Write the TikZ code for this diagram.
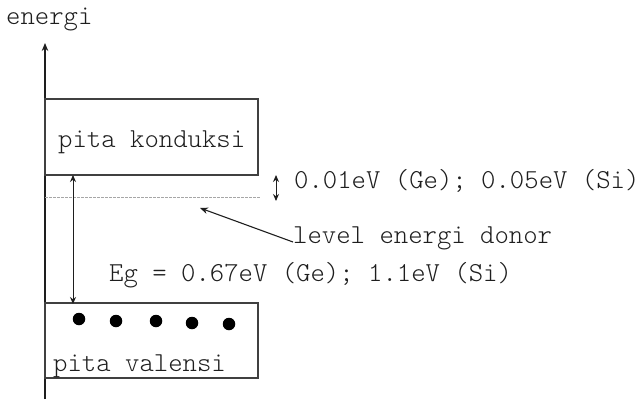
\documentclass[tikz,border=0pt]{standalone}
\usepackage{fontspec}
\setmonofont{Latin Modern Mono Light}
\usetikzlibrary{arrows.meta}
\definecolor{ink}{HTML}{1E1E1E}
\tikzset{
  lbl/.style={anchor=base west, inner sep=0pt, font=\ttfamily\fontsize{27.4}{30}\selectfont, text=ink},
  band/.style={draw=ink!85, line width=1.4pt},
  head/.style={Stealth[length=8pt,width=6.5pt]},
  tip/.style={-{Stealth[length=8pt,width=6.5pt]}},
  twotip/.style={{Stealth[length=7pt,width=6pt]}-{Stealth[length=7pt,width=6pt]}},
  electron/.style={circle, fill=black, inner sep=0pt, minimum size=12.5pt},
}
\begin{document}
\begin{tikzpicture}[x=1pt,y=-1pt]
  \useasboundingbox (0,0) rectangle (642,399);
  % energy axis
  \coordinate (axb) at (45,399);
  \coordinate (axt) at (45,43);
  \draw[ink, line width=1.2pt, tip] (axb) -- (axt);
  \node[lbl] (energi) at (6,24) {energi};
  % conduction band
  \draw[band] (45,99) rectangle (258,175);
  \node[lbl] (cb) at (58,147) {pita konduksi};
  % donor level
  \coordinate (dl) at (45,197);
  \coordinate (dr) at (260,197);
  \draw[gray!70, line width=0.7pt, dash pattern=on 2.5pt off 1.5pt] (dl) -- (dr);
  % valence band
  \draw[band] (45,303) rectangle (258,378);
  \node[lbl] (vb) at (53,371) {pita valensi};
  \foreach \x/\y [count=\i] in {79/319, 116/321, 156/321, 192/323, 229/324}
    \node[electron] (e\i) at (\x,\y) {};
  % band gap
  \coordinate (gt) at (73,175);
  \coordinate (gb) at (73,304);
  \draw[ink, line width=1pt, twotip] (gt) -- (gb);
  \node[lbl] (eg) at (109,281) {Eg = 0.67eV (Ge); 1.1eV (Si)};
  % donor ionisation energy
  \coordinate (st) at (276,175);
  \coordinate (sb) at (276,201);
  \draw[ink, line width=1pt, twotip] (st) -- (sb);
  \node[lbl] (ed) at (294,188) {0.01eV (Ge); 0.05eV (Si)};
  % donor label with pointer
  \node[lbl] (donor) at (293,243) {level energi donor};
  \coordinate (pt) at (200,208);
  \coordinate (ps) at (293,242);
  \draw[ink, line width=1.1pt, tip] (ps) -- (pt);
\end{tikzpicture}
\end{document}
